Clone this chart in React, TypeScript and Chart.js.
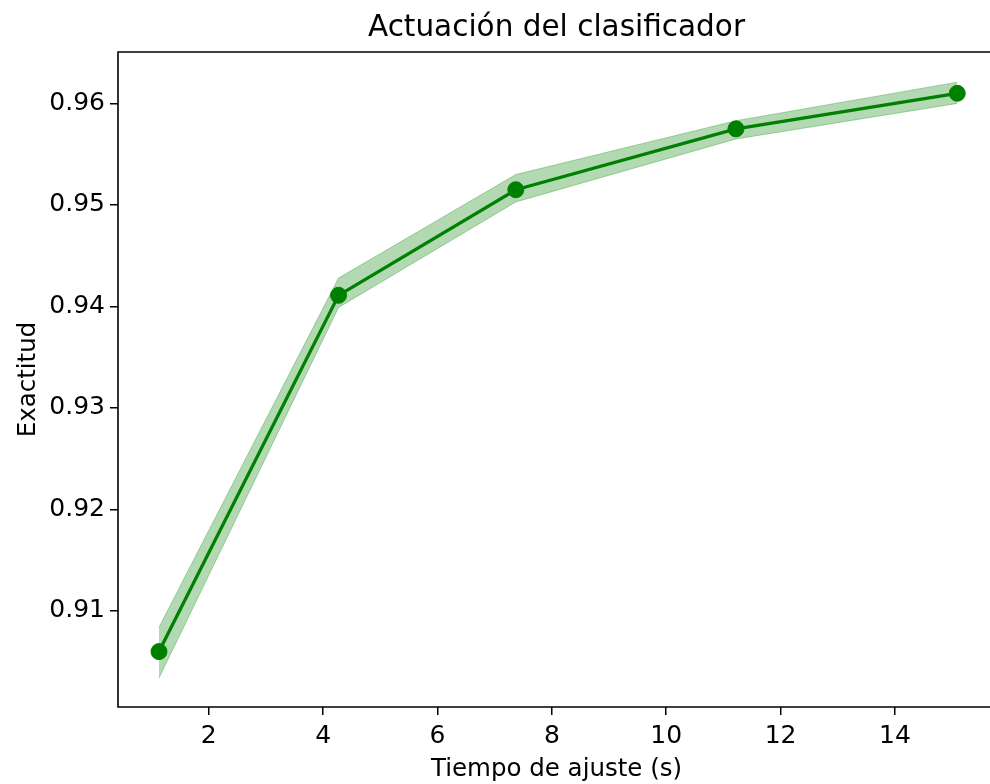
import React, { useEffect, useRef } from 'react';
import { Chart, registerables } from 'chart.js';

Chart.register(...registerables);

const fitTimes = [1.13, 4.27, 7.37, 11.22, 15.09];
const meanScore = [0.906, 0.9411, 0.9515, 0.9575, 0.961];
const upperScore = [0.9084, 0.9428, 0.953, 0.9583, 0.9621];
const lowerScore = [0.9034, 0.9399, 0.9503, 0.9565, 0.96];
const xTicks = [2, 4, 6, 8, 10, 12, 14];
const yTicks = [0.91, 0.92, 0.93, 0.94, 0.95, 0.96];
const titleText = 'Actuación del clasificador';
const xLabel = 'Tiempo de ajuste (s)';
const yLabel = 'Exactitud';

const FONT = '"DejaVu Sans", sans-serif';

export default function App() {
  const ref = useRef<HTMLCanvasElement>(null);

  useEffect(() => {
    document.body.style.margin = '0';
    const frame = {
      id: 'frame',
      afterDraw(chart: any) {
        const { ctx, chartArea: a } = chart;
        ctx.save();
        ctx.strokeStyle = '#000';
        ctx.lineWidth = 1.6;
        ctx.beginPath();
        ctx.moveTo(a.right + 20, a.top);
        ctx.lineTo(a.left, a.top);
        ctx.lineTo(a.left, a.bottom);
        ctx.lineTo(a.right + 20, a.bottom);
        ctx.stroke();
        ctx.fillStyle = '#000';
        ctx.font = `29.5px ${FONT}`;
        ctx.textAlign = 'center';
        ctx.textBaseline = 'alphabetic';
        ctx.fillText(titleText, (a.left + a.right) / 2, 36);
        ctx.restore();
      },
    };
    const pts = (ys: number[]) => fitTimes.map((x, i) => ({ x, y: ys[i] }));
    const chart = new Chart(ref.current!, {
      type: 'line',
      data: {
        datasets: [
          {
            label: 'mean',
            data: pts(meanScore),
            borderColor: '#008000',
            backgroundColor: '#008000',
            borderWidth: 3.3,
            pointRadius: 8,
            pointBorderWidth: 1,
            pointBackgroundColor: '#008000',
            pointBorderColor: '#008000',
            fill: false,
            tension: 0,
          },
          {
            label: 'upper',
            data: pts(upperScore),
            borderWidth: 1,
            pointRadius: 0,
            borderColor: 'rgba(0,128,0,0.3)',
            backgroundColor: 'rgba(0,128,0,0.3)',
            fill: '+1',
            tension: 0,
          },
          {
            label: 'lower',
            data: pts(lowerScore),
            borderWidth: 1,
            pointRadius: 0,
            borderColor: 'rgba(0,128,0,0.3)',
            backgroundColor: 'rgba(0,128,0,0.3)',
            fill: false,
            tension: 0,
          },
        ],
      },
      options: {
        responsive: false,
        animation: false,
        layout: { padding: { top: 52, right: 15, left: 0, bottom: 0 } },
        plugins: {
          legend: { display: false },
          tooltip: { enabled: false },
          title: { display: false },
        },
        scales: {
          x: {
            type: 'linear',
            min: 0.413,
            max: 15.75,
            afterBuildTicks: (s: any) => {
              s.ticks = xTicks.map((v) => ({ value: v }));
            },
            afterFit: (s: any) => {
              s.height = 77;
            },
            ticks: {
              font: { family: FONT, size: 25 },
              color: '#000',
              padding: 6,
              maxRotation: 0,
              autoSkip: false,
              callback: (v: any) => String(v),
            },
            grid: {
              display: true,
              drawOnChartArea: false,
              drawTicks: true,
              tickLength: 8,
              color: '#000',
              lineWidth: 1.5,
            },
            border: { display: false },
            title: {
              display: true,
              text: xLabel,
              color: '#000',
              font: { family: FONT, size: 24.5 },
              padding: { top: 0, bottom: 0 },
            },
          },
          y: {
            type: 'linear',
            min: 0.90054,
            max: 0.96507,
            afterBuildTicks: (s: any) => {
              s.ticks = yTicks.map((v) => ({ value: v }));
            },
            afterFit: (s: any) => {
              s.width = 118;
            },
            ticks: {
              font: { family: FONT, size: 25 },
              color: '#000',
              padding: 5,
              autoSkip: false,
              callback: (v: any) => Number(v).toFixed(2),
            },
            grid: {
              display: true,
              drawOnChartArea: false,
              drawTicks: true,
              tickLength: 8,
              color: '#000',
              lineWidth: 1.5,
            },
            border: { display: false },
            title: {
              display: true,
              text: yLabel,
              color: '#000',
              font: { family: FONT, size: 24.5 },
              padding: { top: 14, bottom: 0 },
            },
          },
        },
      },
      plugins: [frame],
    });
    return () => chart.destroy();
  }, []);

  return (
    <div style={{ width: 990, height: 784, overflow: 'hidden', background: '#fff' }}>
      <canvas ref={ref} width={1010} height={784} style={{ display: 'block', width: 1010, height: 784 }} />
    </div>
  );
}
